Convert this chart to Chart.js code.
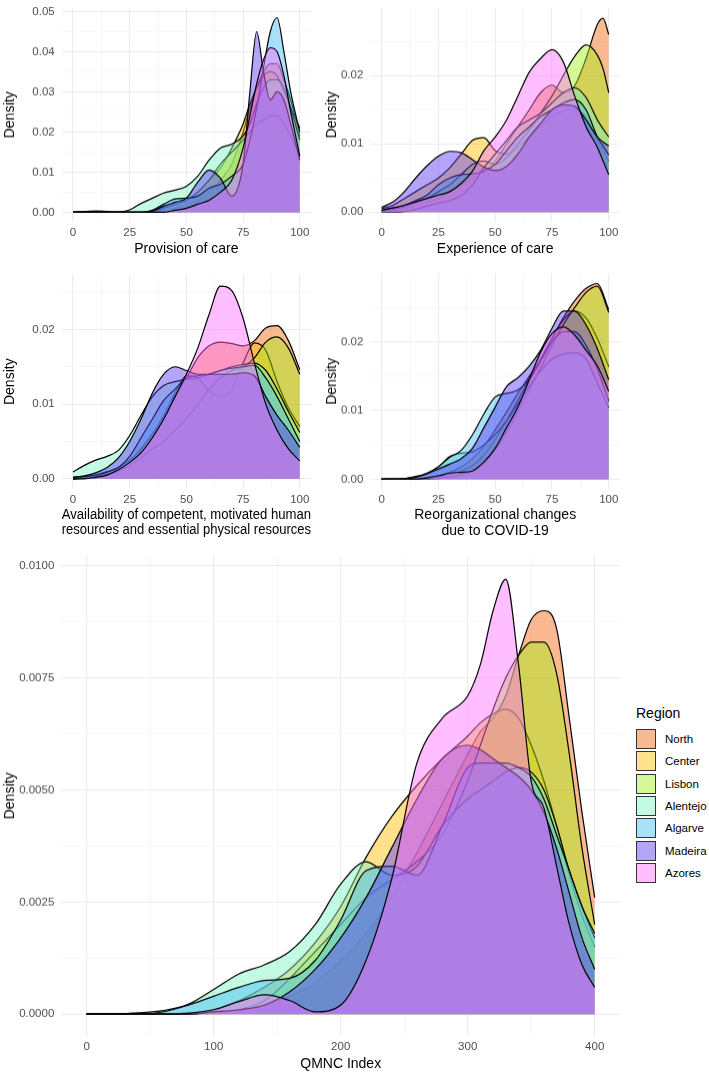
<!DOCTYPE html>
<html lang="en">
<head>
<meta charset="UTF-8">
<title>Density of QMNC scores by region</title>
<script src="https://cdn.jsdelivr.net/npm/chart.js"></script>
<style>
  body { margin: 0; background: #fff; font-family: "Liberation Sans", Arial, sans-serif; }
  .page { position: relative; width: 709px; height: 1072px; overflow: hidden; }
  .panel { position: absolute; }
  .legend { position: absolute; left: 636px; top: 705px; color: #000; }
  .legend h4 { margin: 0 0 6px 0; font-size: 14px; font-weight: normal; line-height: 17px; }
  .legend .item { display: flex; align-items: center; height: 22.3px; font-size: 11.5px; }
  .legend .key { width: 20px; height: 20px; box-sizing: border-box; border: 1px solid #333; margin-right: 9px; }
</style>
</head>
<body>
<div class="page" id="page">
  <div class="panel" id="p1"><canvas id="c1"></canvas></div>
  <div class="panel" id="p2"><canvas id="c2"></canvas></div>
  <div class="panel" id="p3"><canvas id="c3"></canvas></div>
  <div class="panel" id="p4"><canvas id="c4"></canvas></div>
  <div class="panel" id="p5"><canvas id="c5"></canvas></div>
  <div class="legend" id="legend"><h4>Region</h4></div>
</div>
<script>
// regions, in drawing order (last one ends up on top)
const regions = ['North', 'Center', 'Lisbon', 'Alentejo', 'Algarve', 'Madeira', 'Azores'];

// axis titles
const titles = [
  'Provision of care',
  'Experience of care',
  ['Availability of competent, motivated human', 'resources and essential physical resources'],
  ['Reorganizational changes', 'due to COVID-19'],
  'QMNC Index'
];

// tick labels
const scoreTicks = [0, 25, 50, 75, 100];
const qmncTicks = [0, 100, 200, 300, 400];
const provTicksY = [0, 0.01, 0.02, 0.03, 0.04, 0.05];
const smallTicksY = [0, 0.01, 0.02];
const qmncTicksY = [0, 0.0025, 0.005, 0.0075, 0.01];

// density estimates, one row per region
const provisionX = [0, 10, 20, 25, 30, 35, 40, 45, 50, 55, 60, 65, 70, 75, 78, 81, 84, 87, 90, 93, 96, 100];
const provisionY = [
  [0, 0, 0, 0, 0, 0, 0.0003, 0.001, 0.002, 0.003, 0.005, 0.008, 0.012, 0.02, 0.026, 0.031, 0.035, 0.037, 0.037, 0.033, 0.028, 0.019],
  [0, 0, 0, 0, 0, 0.0003, 0.001, 0.002, 0.003, 0.005, 0.008, 0.011, 0.016, 0.022, 0.027, 0.031, 0.034, 0.035, 0.034, 0.03, 0.026, 0.021],
  [0, 0, 0, 0, 0, 0, 0.001, 0.002, 0.003, 0.005, 0.008, 0.012, 0.015, 0.018, 0.02, 0.022, 0.023, 0.024, 0.024, 0.022, 0.019, 0.014],
  [0, 0.0003, 0.0001, 0.0006, 0.0022, 0.0035, 0.0048, 0.0055, 0.0065, 0.009, 0.013, 0.016, 0.017, 0.019, 0.022, 0.027, 0.031, 0.033, 0.033, 0.031, 0.026, 0.018],
  [0, 0, 0, 0, 0, 0.0005, 0.002, 0.0033, 0.0035, 0.004, 0.006, 0.007, 0.009, 0.012, 0.018, 0.026, 0.036, 0.045, 0.0485, 0.04, 0.03, 0.02],
  [0, 0, 0, 0, 0, 0.0003, 0.0015, 0.0025, 0.0035, 0.0075, 0.0105, 0.0085, 0.004, 0.012, 0.03, 0.045, 0.035, 0.028, 0.03, 0.028, 0.022, 0.013],
  [0, 0, 0, 0, 0, 0, 0, 0.0005, 0.001, 0.002, 0.003, 0.005, 0.008, 0.016, 0.024, 0.032, 0.038, 0.041, 0.04, 0.034, 0.025, 0.014]
];

const experienceX = [0, 5, 10, 15, 20, 25, 30, 35, 40, 45, 50, 55, 60, 65, 70, 75, 80, 85, 90, 95, 97.5, 100];
const experienceY = [
  [0.0001, 0.0003, 0.0005, 0.001, 0.0015, 0.002, 0.003, 0.004, 0.005, 0.006, 0.0075, 0.01, 0.0125, 0.015, 0.0175, 0.0186, 0.0175, 0.0185, 0.0225, 0.0275, 0.0284, 0.026],
  [0.0005, 0.001, 0.002, 0.003, 0.004, 0.005, 0.0065, 0.0085, 0.0105, 0.0109, 0.009, 0.0085, 0.0095, 0.011, 0.0125, 0.014, 0.0148, 0.015, 0.014, 0.0105, 0.009, 0.0075],
  [0.0002, 0.0004, 0.0008, 0.0014, 0.002, 0.003, 0.004, 0.0055, 0.007, 0.0075, 0.007, 0.008, 0.01, 0.012, 0.0145, 0.017, 0.02, 0.0228, 0.0245, 0.023, 0.021, 0.0175],
  [0, 0, 0.0001, 0.0004, 0.0009, 0.0013, 0.0017, 0.0024, 0.004, 0.0065, 0.0085, 0.0105, 0.0125, 0.0135, 0.0145, 0.016, 0.0175, 0.0182, 0.0168, 0.0135, 0.0122, 0.011],
  [0.0003, 0.0006, 0.001, 0.0017, 0.0025, 0.004, 0.005, 0.0055, 0.0056, 0.006, 0.007, 0.009, 0.011, 0.0125, 0.014, 0.015, 0.016, 0.0165, 0.015, 0.011, 0.0097, 0.0084],
  [0.0007, 0.0015, 0.003, 0.005, 0.0068, 0.0082, 0.0089, 0.0087, 0.0077, 0.0066, 0.0061, 0.0067, 0.0085, 0.011, 0.013, 0.015, 0.0157, 0.0155, 0.0135, 0.011, 0.0103, 0.0097],
  [0.0003, 0.0006, 0.001, 0.0015, 0.002, 0.0025, 0.003, 0.0042, 0.006, 0.009, 0.011, 0.0135, 0.017, 0.0205, 0.0225, 0.0238, 0.022, 0.017, 0.0125, 0.0095, 0.0075, 0.0055]
];

const resourcesX = [0, 5, 10, 15, 20, 25, 30, 35, 40, 45, 50, 55, 60, 65, 70, 75, 80, 85, 90, 95, 100];
const resourcesY = [
  [0, 0.0001, 0.0004, 0.0008, 0.0015, 0.0025, 0.004, 0.006, 0.008, 0.011, 0.0135, 0.0162, 0.0178, 0.0183, 0.0181, 0.0178, 0.0185, 0.0202, 0.0205, 0.0185, 0.0146],
  [0, 0.0002, 0.0005, 0.001, 0.0015, 0.0025, 0.004, 0.006, 0.0085, 0.0115, 0.0138, 0.0135, 0.0118, 0.011, 0.012, 0.0155, 0.0182, 0.0172, 0.013, 0.0095, 0.007],
  [0, 0.0001, 0.0003, 0.0006, 0.001, 0.0018, 0.0028, 0.004, 0.005, 0.0065, 0.008, 0.01, 0.012, 0.0135, 0.0145, 0.015, 0.0162, 0.0183, 0.019, 0.0175, 0.014],
  [0.0009, 0.0018, 0.0025, 0.003, 0.0038, 0.0058, 0.0085, 0.011, 0.0125, 0.013, 0.0133, 0.0135, 0.014, 0.0145, 0.015, 0.0153, 0.0155, 0.0145, 0.012, 0.009, 0.0062],
  [0.0002, 0.0003, 0.0005, 0.0009, 0.0015, 0.003, 0.0055, 0.008, 0.0105, 0.012, 0.0135, 0.0138, 0.014, 0.0145, 0.0148, 0.015, 0.0152, 0.0135, 0.011, 0.008, 0.005],
  [0.0002, 0.0004, 0.0008, 0.0015, 0.0028, 0.005, 0.008, 0.0115, 0.014, 0.015, 0.0145, 0.014, 0.014, 0.014, 0.014, 0.0142, 0.0138, 0.011, 0.0085, 0.0065, 0.0042],
  [0, 0, 0.0002, 0.0005, 0.0012, 0.0022, 0.0035, 0.0055, 0.008, 0.011, 0.014, 0.0175, 0.022, 0.0258, 0.0252, 0.0215, 0.0155, 0.01, 0.0065, 0.004, 0.0024]
];

const covidX = [0, 5, 10, 15, 20, 25, 30, 35, 40, 45, 50, 55, 60, 65, 70, 75, 80, 85, 90, 95, 100];
const covidY = [
  [0, 0, 0, 0, 0.0002, 0.0005, 0.001, 0.0018, 0.003, 0.0048, 0.0072, 0.0098, 0.0125, 0.015, 0.0175, 0.0205, 0.0235, 0.026, 0.0278, 0.0285, 0.0247],
  [0, 0, 0, 0, 0.0001, 0.0003, 0.0007, 0.0012, 0.002, 0.0035, 0.0058, 0.0085, 0.0115, 0.0145, 0.0175, 0.0205, 0.0232, 0.0245, 0.0235, 0.0205, 0.0164],
  [0, 0, 0, 0, 0, 0.0001, 0.0003, 0.0006, 0.0012, 0.0024, 0.0042, 0.0068, 0.0098, 0.013, 0.0162, 0.0195, 0.0225, 0.025, 0.0272, 0.0281, 0.0243],
  [0, 0, 0.0001, 0.0003, 0.0008, 0.0018, 0.0033, 0.0038, 0.004, 0.005, 0.0065, 0.0085, 0.011, 0.0135, 0.0158, 0.0175, 0.0182, 0.0184, 0.0175, 0.014, 0.0104],
  [0, 0, 0.0001, 0.0004, 0.0009, 0.0018, 0.0032, 0.0042, 0.0065, 0.0095, 0.012, 0.0125, 0.013, 0.0145, 0.0172, 0.02, 0.0215, 0.0215, 0.0195, 0.016, 0.0114],
  [0, 0, 0.0001, 0.0003, 0.0008, 0.0015, 0.0022, 0.003, 0.0045, 0.0075, 0.0105, 0.0135, 0.0148, 0.0165, 0.0188, 0.022, 0.0245, 0.0245, 0.0225, 0.019, 0.0145],
  [0, 0, 0, 0, 0.0002, 0.0005, 0.0009, 0.001, 0.0012, 0.0025, 0.0045, 0.0075, 0.0105, 0.0145, 0.0185, 0.0212, 0.0222, 0.021, 0.0188, 0.0165, 0.0128]
];

const qmncX = [0, 20, 40, 60, 80, 100, 120, 140, 160, 180, 200, 220, 240, 260, 280, 300, 310, 320, 330, 340, 350, 360, 370, 380, 390, 400];
const qmncY = [
  [0, 0, 0, 0, 0, 0.00005, 0.0001, 0.0002, 0.0004, 0.0007, 0.0012, 0.0018, 0.0026, 0.0036, 0.0047, 0.0058, 0.0063, 0.0066, 0.0071, 0.008, 0.0088, 0.009, 0.0086, 0.0066, 0.0045, 0.0026],
  [0, 0, 0, 0, 0.00003, 0.0001, 0.0003, 0.0006, 0.001, 0.0016, 0.0024, 0.0035, 0.0044, 0.0051, 0.0057, 0.0062, 0.0065, 0.0067, 0.0068, 0.0066, 0.006, 0.0052, 0.0042, 0.0031, 0.0022, 0.0015],
  [0, 0, 0, 0, 0, 0.00005, 0.0001, 0.0003, 0.0008, 0.0014, 0.002, 0.0026, 0.003, 0.0034, 0.004, 0.0052, 0.006, 0.0068, 0.0075, 0.008, 0.0083, 0.0083, 0.0076, 0.0058, 0.0037, 0.002],
  [0, 0, 0.00003, 0.00008, 0.00022, 0.00055, 0.0009, 0.0011, 0.0014, 0.002, 0.0029, 0.0034, 0.0031, 0.0033, 0.0042, 0.0048, 0.005, 0.0052, 0.0054, 0.0055, 0.0054, 0.005, 0.0042, 0.0032, 0.0024, 0.0017],
  [0, 0, 0, 0.00005, 0.0002, 0.0004, 0.0006, 0.00075, 0.0008, 0.0012, 0.0021, 0.0032, 0.0033, 0.0031, 0.0042, 0.0055, 0.0056, 0.0056, 0.0056, 0.0055, 0.0053, 0.0048, 0.004, 0.0032, 0.0024, 0.0018],
  [0, 0, 0, 0, 0, 0.00005, 0.0001, 0.0002, 0.0005, 0.001, 0.0017, 0.0026, 0.0037, 0.0048, 0.0057, 0.006, 0.0059, 0.0057, 0.0055, 0.0053, 0.005, 0.0045, 0.0037, 0.0027, 0.0017, 0.001],
  [0, 0, 0, 0, 0.00002, 0.0001, 0.00028, 0.00043, 0.0003, 0.00005, 0.0002, 0.0012, 0.003, 0.0056, 0.0066, 0.0071, 0.0078, 0.009, 0.0097, 0.0078, 0.0052, 0.0046, 0.0033, 0.002, 0.0011, 0.0006]
];

// fill colours (same order as regions)
const fills = [
  'rgba(244, 99, 11, 0.45)',
  'rgba(255, 188, 0, 0.45)',
  'rgba(166, 240, 22, 0.45)',
  'rgba(122, 244, 195, 0.45)',
  'rgba(66, 188, 244, 0.45)',
  'rgba(88, 55, 244, 0.45)',
  'rgba(255, 111, 255, 0.45)'
];

Chart.defaults.font.family = '"Liberation Sans", Arial, sans-serif';

const TITLE_LH = 15.4;

// majors plus the minor gridlines halfway between them
function withMinors(major) {
  const out = [];
  const step = major[1] - major[0];
  major.forEach(v => {
    out.push({ value: v, minor: false });
    out.push({ value: v + step / 2, minor: true });
  });
  return out;
}

function gridStyle() {
  return {
    color: c => (c.tick && c.tick.minor) ? '#f4f4f4' : '#ebebeb',
    lineWidth: c => (c.tick && c.tick.minor) ? 0.8 : 1.1,
    drawTicks: false
  };
}

// g: chart area box + where the axis titles sit
function densityPanel(n, xs, ys, g) {
  const padTop = 10, padRight = 5;
  const left = g.yTitleX - TITLE_LH / 2;
  const top = g.T - padTop;
  const scaleBottom = g.xTitleY + TITLE_LH / 2;
  const box = document.getElementById('p' + n);
  box.style.left = left + 'px';
  box.style.top = top + 'px';
  box.style.width = (g.R - left + padRight) + 'px';
  box.style.height = (scaleBottom - top) + 'px';

  const datasets = regions.map((name, i) => ({
    label: name,
    data: xs.map((x, k) => ({ x: x, y: ys[i][k] })),
    backgroundColor: fills[i],
    borderColor: '#000',
    borderWidth: 1.2,
    fill: 'origin',
    pointRadius: 0,
    cubicInterpolationMode: 'monotone',
    order: regions.length - i
  }));

  const lastX = g.xTicks[g.xTicks.length - 1];
  const xGrid = withMinors(g.xTicks).filter(t => !t.minor || t.value < lastX);
  const yGrid = withMinors(g.yTicks).filter(t => t.value <= g.yMax);

  new Chart(document.getElementById('c' + n), {
    type: 'line',
    data: { datasets },
    options: {
      responsive: true,
      maintainAspectRatio: false,
      animation: false,
      layout: { padding: { top: padTop, right: padRight, left: 0, bottom: 0 } },
      plugins: { legend: { display: false }, tooltip: { enabled: false } },
      scales: {
        x: {
          type: 'linear',
          min: g.xMin,
          max: g.xMax,
          afterBuildTicks: s => { s.ticks = xGrid.map(t => ({ ...t })); },
          afterFit: s => { s.height = scaleBottom - g.B; },
          ticks: {
            autoSkip: false,
            maxRotation: 0,
            padding: 4,
            color: '#4d4d4d',
            font: { size: 11.5 },
            callback: (v, i, t) => t[i].minor ? '' : String(v)
          },
          grid: gridStyle(),
          border: { display: false },
          title: {
            display: true,
            text: g.xTitle,
            color: '#000',
            padding: 0,
            font: { size: 14, lineHeight: 1.1 }
          }
        },
        y: {
          type: 'linear',
          min: g.yMin,
          max: g.yMax,
          afterBuildTicks: s => { s.ticks = yGrid.map(t => ({ ...t })); },
          afterFit: s => { s.width = g.L - left; },
          ticks: {
            autoSkip: false,
            padding: 7,
            color: '#4d4d4d',
            font: { size: 11.5 },
            callback: (v, i, t) => t[i].minor ? '' : v.toFixed(g.digits)
          },
          grid: gridStyle(),
          border: { display: false },
          title: {
            display: true,
            text: 'Density',
            color: '#000',
            padding: 0,
            font: { size: 14, lineHeight: 1.1 }
          }
        }
      }
    }
  });
}

densityPanel(1, provisionX, provisionY, {
  L: 62, R: 311.4, T: 4, B: 221, yTitleX: 10, xTitleY: 248, xTitle: titles[0],
  xMin: -5, xMax: 105, xTicks: scoreTicks, yMin: -0.0024, yMax: 0.0509, yTicks: provTicksY, digits: 2
});
densityPanel(2, experienceX, experienceY, {
  L: 370.6, R: 620.4, T: 4, B: 221, yTitleX: 332, xTitleY: 248, xTitle: titles[1],
  xMin: -5, xMax: 105, xTicks: scoreTicks, yMin: -0.00143, yMax: 0.0299, yTicks: smallTicksY, digits: 2
});
densityPanel(3, resourcesX, resourcesY, {
  L: 62, R: 311.4, T: 270.5, B: 488, yTitleX: 10, xTitleY: 530, xTitle: titles[2],
  xMin: -5, xMax: 105, xTicks: scoreTicks, yMin: -0.0013, yMax: 0.0273, yTicks: smallTicksY, digits: 2
});
densityPanel(4, covidX, covidY, {
  L: 370.6, R: 620.4, T: 270, B: 488, yTitleX: 332, xTitleY: 530, xTitle: titles[3],
  xMin: -5, xMax: 105, xTicks: scoreTicks, yMin: -0.0014, yMax: 0.0299, yTicks: smallTicksY, digits: 2
});
densityPanel(5, qmncX, qmncY, {
  L: 61.6, R: 620.4, T: 552, B: 1035, yTitleX: 10, xTitleY: 1063, xTitle: titles[4],
  xMin: -20, xMax: 420, xTicks: qmncTicks, yMin: -0.000487, yMax: 0.01022, yTicks: qmncTicksY, digits: 4
});

// legend for the bottom panel
const legend = document.getElementById('legend');
regions.forEach((name, i) => {
  const item = document.createElement('div');
  item.className = 'item';
  const key = document.createElement('span');
  key.className = 'key';
  key.style.background = fills[i];
  item.appendChild(key);
  item.appendChild(document.createTextNode(name));
  legend.appendChild(item);
});
</script>
</body>
</html>
